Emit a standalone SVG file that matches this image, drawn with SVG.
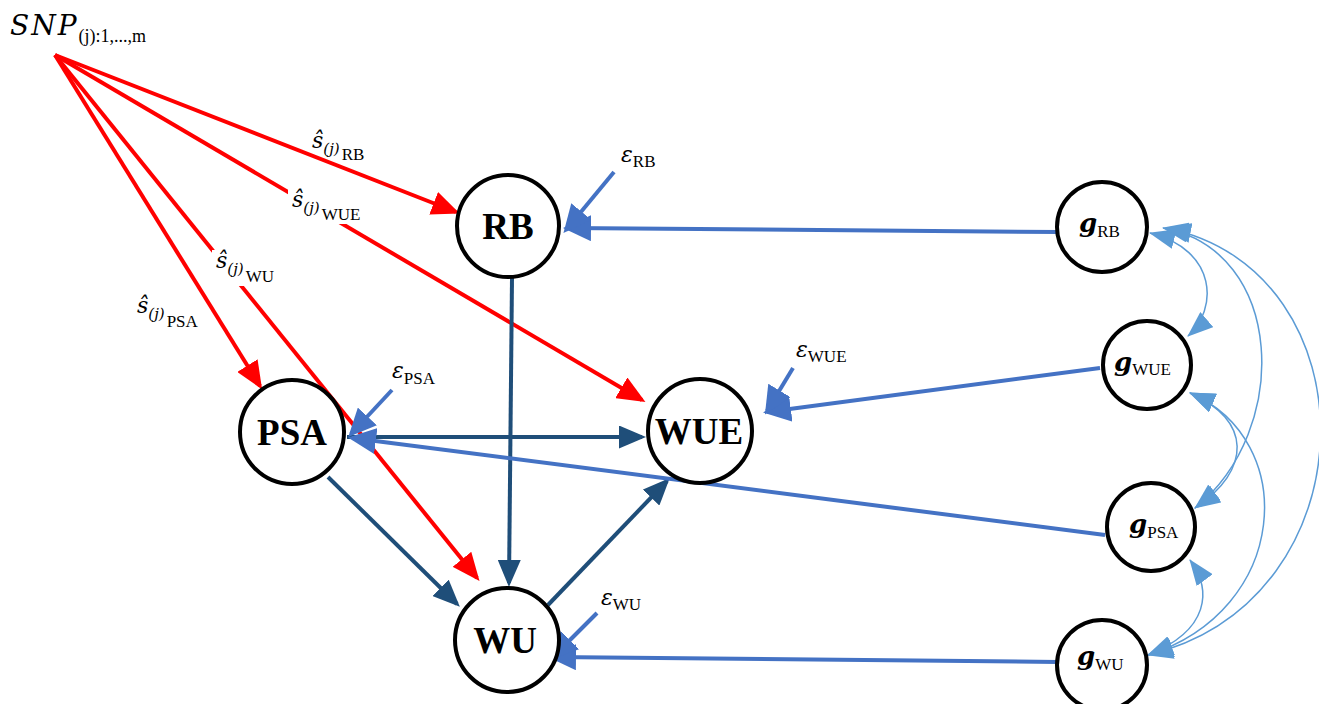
<svg xmlns="http://www.w3.org/2000/svg" width="1319" height="704" viewBox="0 0 1319 704">
<style>
.node circle{fill:#fff;stroke:#000;stroke-width:4}
.nl{font-family:"Liberation Serif","DejaVu Serif",serif;font-weight:bold;font-size:37px;text-anchor:middle;fill:#000}
.lab{font-family:"Liberation Serif","DejaVu Serif",serif;fill:#000}
.m{font-family:"DejaVu Serif","Liberation Serif",serif;font-style:italic}
.red{stroke:#FF0000;stroke-width:4;fill:none;marker-end:url(#ahRed)}
.dk{stroke:#1F4E79;stroke-width:4;fill:none;marker-end:url(#ahDk)}
.lb{stroke:#4472C4;stroke-width:4;fill:none;marker-end:url(#ahLb)}
.arc{stroke:#5B9BD5;stroke-width:1.5;fill:none;marker-start:url(#ahArc);marker-end:url(#ahArc)}
</style>
<defs>
<marker id="ahRed" markerUnits="userSpaceOnUse" markerWidth="28" markerHeight="24" refX="24" refY="12" orient="auto"><path d="M0,0 L28,12 L0,24 Z" fill="#FF0000"/></marker>
<marker id="ahDk" markerUnits="userSpaceOnUse" markerWidth="27" markerHeight="23" refX="23" refY="11.5" orient="auto"><path d="M0,0 L27,11.5 L0,23 Z" fill="#1F4E79"/></marker>
<marker id="ahLb" markerUnits="userSpaceOnUse" markerWidth="28" markerHeight="26" refX="24" refY="13" orient="auto"><path d="M0,0 L28,13 L0,26 Z" fill="#4472C4"/></marker>
<marker id="ahArc" markerUnits="userSpaceOnUse" markerWidth="26" markerHeight="20" refX="25" refY="10" orient="auto-start-reverse"><path d="M0,0 L26,10 L0,20 Z" fill="#5B9BD5"/></marker>
</defs>
<rect width="1319" height="704" fill="#fff"/>
<g id="connectors">
<path class="red" d="M55,55 L456,212"/>
<path class="red" d="M55,55 L642,400"/>
<path class="red" d="M55,55 L477,578"/>
<path class="red" d="M55,55 L260,386"/>
<path class="dk" d="M512,278 L509,583"/>
<path class="dk" d="M347,437 L642,437"/>
<path class="dk" d="M328,477 L457,604"/>
<path class="dk" d="M548,605 L667,481"/>
<path class="lb" d="M1058,232 L567,228"/>
<path class="lb" d="M1100,368 L767,412"/>
<path class="lb" d="M1105,535 L352,438"/>
<path class="lb" d="M1058,662 L552,657"/>
<path class="lb" d="M614,172 L566,230"/>
<path class="lb" d="M793,368 L767,411"/>
<path class="lb" d="M392,390 L351,434"/>
<path class="lb" d="M597,613 L553,657"/>
<path class="arc" d="M1150,233 C1218,250 1218,310 1188,336"/>
<path class="arc" d="M1163,228 C1285,250 1292,430 1195,508"/>
<path class="arc" d="M1166,228 C1375,270 1375,600 1148,655"/>
<path class="arc" d="M1190,393 C1252,420 1252,470 1195,508"/>
<path class="arc" d="M1190,393 C1300,440 1290,610 1148,655"/>
<path class="arc" d="M1190,560 C1212,590 1210,630 1148,655"/>
</g>
<g id="labels">
<text class="lab" x="10" y="35"><tspan class="m" font-size="28" letter-spacing="2">SNP</tspan><tspan font-size="18" dy="7">(j):1,...,m</tspan></text>
<text class="lab" x="312" y="148"><tspan class="m" font-size="22">ŝ</tspan><tspan class="m" font-size="15" dy="6">(j)</tspan><tspan font-size="17" dx="2" dy="6">RB</tspan></text>
<rect x="288" y="188" width="90" height="36" fill="#fff"/>
<text class="lab" x="292" y="207"><tspan class="m" font-size="22">ŝ</tspan><tspan class="m" font-size="15" dy="6">(j)</tspan><tspan font-size="17" dx="2" dy="7">WUE</tspan></text>
<rect x="212" y="250" width="80" height="36" fill="#fff"/>
<text class="lab" x="216" y="268"><tspan class="m" font-size="22">ŝ</tspan><tspan class="m" font-size="15" dy="6">(j)</tspan><tspan font-size="17" dx="2" dy="8">WU</tspan></text>
<text class="lab" x="137" y="313"><tspan class="m" font-size="22">ŝ</tspan><tspan class="m" font-size="15" dy="6">(j)</tspan><tspan font-size="17" dx="2" dy="8">PSA</tspan></text>
<text class="lab" x="621" y="162"><tspan class="m" font-size="22">ε</tspan><tspan font-size="17" dy="5">RB</tspan></text>
<text class="lab" x="796" y="357"><tspan class="m" font-size="22">ε</tspan><tspan font-size="17" dy="5">WUE</tspan></text>
<text class="lab" x="392" y="378"><tspan class="m" font-size="22">ε</tspan><tspan font-size="17" dy="6">PSA</tspan></text>
<text class="lab" x="601" y="605"><tspan class="m" font-size="22">ε</tspan><tspan font-size="17" dy="5">WU</tspan></text>
</g>
<g id="node-RB" class="node"><circle cx="508" cy="226" r="51"/><text class="nl" x="508" y="239">RB</text></g>
<g id="node-PSA" class="node"><circle cx="292" cy="432" r="52"/><text class="nl" x="292" y="445">PSA</text></g>
<g id="node-WUE" class="node"><circle cx="700" cy="431" r="52"/><text class="nl" x="699" y="444">WUE</text></g>
<g id="node-WU" class="node"><circle cx="507" cy="640" r="52"/><text class="nl" x="505" y="653">WU</text></g>
<g id="node-gRB" class="node"><circle cx="1102" cy="227" r="45"/><text class="lab" x="1079" y="232"><tspan class="m" font-weight="bold" font-size="26">g</tspan><tspan font-size="17" dy="5">RB</tspan></text></g>
<g id="node-gWUE" class="node"><circle cx="1147" cy="365" r="44"/><text class="lab" x="1114" y="371"><tspan class="m" font-weight="bold" font-size="26">g</tspan><tspan font-size="17" dy="4">WUE</tspan></text></g>
<g id="node-gPSA" class="node"><circle cx="1151" cy="527" r="44"/><text class="lab" x="1129" y="533"><tspan class="m" font-weight="bold" font-size="26">g</tspan><tspan font-size="17" dy="5">PSA</tspan></text></g>
<g id="node-gWU" class="node"><circle cx="1102" cy="665" r="45"/><text class="lab" x="1077" y="665"><tspan class="m" font-weight="bold" font-size="26">g</tspan><tspan font-size="17" dy="5">WU</tspan></text></g>
</svg>
